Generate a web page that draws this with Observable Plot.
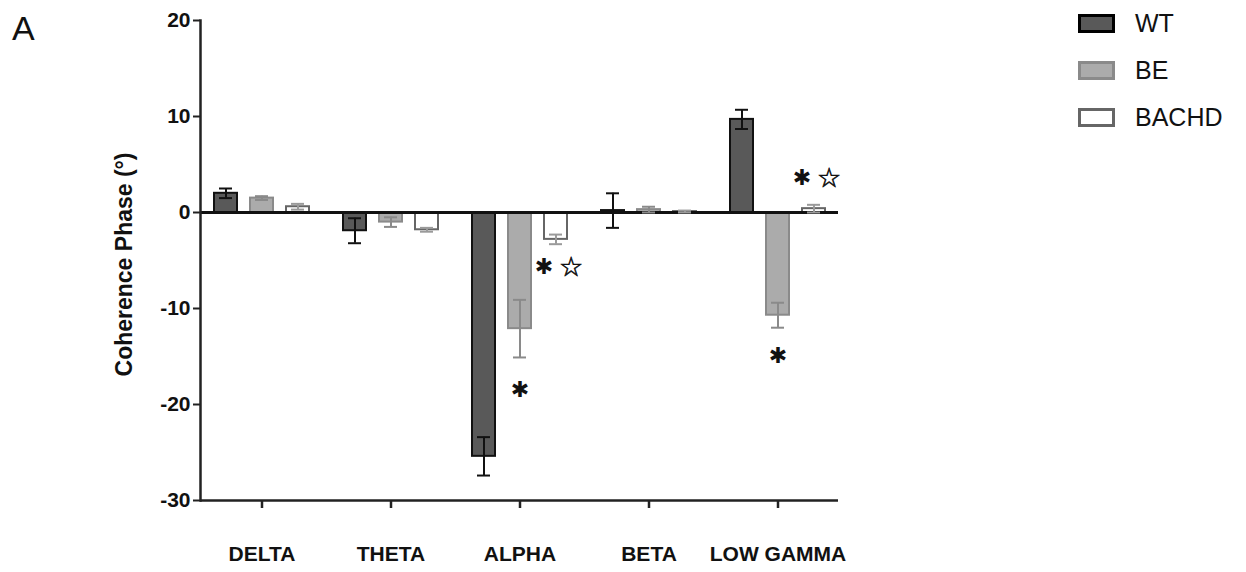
<!DOCTYPE html>
<html>
<head>
<meta charset="utf-8">
<script src="https://cdn.jsdelivr.net/npm/d3@7"></script>
<script src="https://cdn.jsdelivr.net/npm/@observablehq/plot@0.6"></script>
<style>
  html, body { margin: 0; padding: 0; background: #fff; }
  #wrap { position: relative; width: 1246px; height: 572px; font-family: "Liberation Sans", Arial, sans-serif; }
  #panel { position: absolute; left: 12px; top: 9px; font-size: 34px; color: #111; }
  #legend { position: absolute; left: 1078px; top: 0px; }
  .row { display: flex; align-items: center; height: 47px; }
  .sw { width: 31px; height: 13px; border-width: 3px; border-style: solid; margin-right: 20px; }
  .lab { font-size: 25px; color: #111; }
</style>
</head>
<body>
<div id="wrap">
  <div id="chart"></div>
  <div id="panel">A</div>
  <div id="legend"></div>
</div>
<script>
// ---- data ----
const groups = ["DELTA", "THETA", "ALPHA", "BETA", "LOW GAMMA"];
const series = ["WT", "BE", "BACHD"];
const wtMean = [2.0, -1.9, -25.4, 0.2, 9.7];
const wtSem = [0.5, 1.3, 2.0, 1.8, 1.0];
const beMean = [1.5, -1.0, -12.1, 0.3, -10.7];
const beSem = [0.2, 0.5, 3.0, 0.3, 1.3];
const bachdMean = [0.6, -1.8, -2.8, 0.1, 0.4];
const bachdSem = [0.3, 0.2, 0.5, 0.1, 0.4];
const yTicks = [-30, -20, -10, 0, 10, 20];
// significance marks: ✱ vs WT, ☆ vs BE
const annotGroup = ["ALPHA", "ALPHA", "LOW GAMMA", "LOW GAMMA"];
const annotSeries = ["BACHD", "BE", "BE", "BACHD"];
const annotVsWT = [true, true, true, true];
const annotVsBE = [true, false, false, true];
const annotY = [-5.7, -18.5, -14.9, 3.6];

// ---- styles ----
const style = {
  WT: {fill: "#595959", stroke: "#111", err: "#111", dx: -36},
  BE: {fill: "#ababab", stroke: "#8a8a8a", err: "#8a8a8a", dx: 0},
  BACHD: {fill: "#ffffff", stroke: "#666", err: "#9a9a9a", dx: 36}
};

const means = {WT: wtMean, BE: beMean, BACHD: bachdMean};
const sems = {WT: wtSem, BE: beSem, BACHD: bachdSem};
const table = series.flatMap(s => groups.map((g, i) => ({
  group: g, series: s, value: means[s][i], sem: sems[s][i]
})));
const annots = annotY.map((y, i) => ({group: annotGroup[i], series: annotSeries[i], wt: annotVsWT[i], be: annotVsBE[i], y}));

const marks = [];
for (const s of series) {
  const d = table.filter(r => r.series === s);
  const st = style[s];
  marks.push(Plot.barY(d, {x: "group", y: "value", dx: st.dx, fill: st.fill, stroke: st.stroke, strokeWidth: 2, insetLeft: 1, insetRight: 1}));
}
marks.push(Plot.ruleY([0], {stroke: "#111", strokeWidth: 3}));
for (const s of series) {
  const d = table.filter(r => r.series === s);
  const st = style[s];
  marks.push(Plot.ruleX(d, {x: "group", y1: r => r.value - r.sem, y2: r => r.value + r.sem, dx: st.dx, stroke: st.err, strokeWidth: 2}));
  marks.push(Plot.tickY(d, {x: "group", y: r => r.value - r.sem, dx: st.dx, stroke: st.err, strokeWidth: 2, insetLeft: 6, insetRight: 6}));
  marks.push(Plot.tickY(d, {x: "group", y: r => r.value + r.sem, dx: st.dx, stroke: st.err, strokeWidth: 2, insetLeft: 6, insetRight: 6}));
}
for (const s of series) {
  const d = annots.filter(a => a.series === s);
  const both = a => a.wt && a.be;
  marks.push(Plot.text(d.filter(a => a.wt && !a.be), {x: "group", y: "y", text: () => "✱", dx: style[s].dx, fontSize: 22, fontFamily: "DejaVu Sans", fill: "#111", lineAnchor: "middle"}));
  marks.push(Plot.text(d.filter(both), {x: "group", y: "y", text: () => "✱", dx: style[s].dx - 12, fontSize: 22, fontFamily: "DejaVu Sans", fill: "#111", lineAnchor: "middle"}));
  marks.push(Plot.text(d.filter(both), {x: "group", y: "y", text: () => "☆", dx: style[s].dx + 15, fontSize: 27, fontFamily: "DejaVu Sans", fill: "#111", stroke: "#111", strokeWidth: 0.6, lineAnchor: "middle"}));
}
marks.push(Plot.ruleY([-30], {stroke: "#222", strokeWidth: 2.5}));
marks.push(Plot.frame({anchor: "left", stroke: "#222", strokeWidth: 2.5}));
marks.push(Plot.axisY({ticks: yTicks, tickFormat: d => String(d), tickSize: 7, tickPadding: 3, fontSize: 21, fontWeight: "bold", stroke: "#222", strokeWidth: 2, label: null}));
marks.push(Plot.axisX({tickSize: 8, tickPadding: 38, fontSize: 21, fontWeight: "bold", stroke: "#222", strokeWidth: 2.5, label: null}));
marks.push(Plot.text(["Coherence Phase (°)"], {frameAnchor: "left", textAnchor: "middle", rotate: -90, dx: -76, dy: 4, fontSize: 23, fontWeight: "bold", fill: "#111"}));

const chart = Plot.plot({
  width: 1246,
  height: 572,
  marginTop: 20,
  marginBottom: 72,
  marginLeft: 200,
  marginRight: 408,
  style: {fontFamily: "'Liberation Sans', Arial, sans-serif", color: "#111", background: "#fff"},
  x: {domain: groups, paddingInner: 0.807, paddingOuter: 0.367, label: null},
  y: {domain: [-30, 20], label: null},
  marks
});
document.getElementById("chart").appendChild(chart);

// legend
const leg = document.getElementById("legend");
for (const s of series) {
  const row = document.createElement("div");
  row.className = "row";
  const sw = document.createElement("div");
  sw.className = "sw";
  sw.style.background = style[s].fill;
  sw.style.borderColor = s === "WT" ? "#000" : (s === "BE" ? "#8a8a8a" : "#666");
  const lab = document.createElement("div");
  lab.className = "lab";
  lab.textContent = s;
  row.appendChild(sw);
  row.appendChild(lab);
  leg.appendChild(row);
}
</script>
</body>
</html>
